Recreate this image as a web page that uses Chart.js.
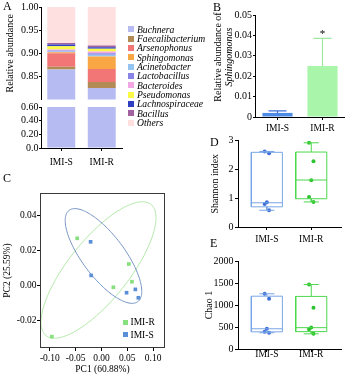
<!DOCTYPE html>
<html>
<head>
<meta charset="utf-8">
<script src="https://cdn.jsdelivr.net/npm/chart.js@4.4.1/dist/chart.umd.min.js"></script>
<style>
html,body{margin:0;padding:0;background:#fff;}
body{position:relative;width:345px;height:383px;overflow:hidden;font-family:"Liberation Serif","Times New Roman",serif;color:#000;}
canvas{position:absolute;}
.pl{position:absolute;font-size:12px;line-height:12px;}
.rt{position:absolute;white-space:nowrap;font-size:10px;line-height:10px;transform:translate(-50%,-50%) rotate(-90deg);}
.lg{position:absolute;display:flex;align-items:center;white-space:nowrap;}
.sw{display:inline-block;flex:none;}
</style>
</head>
<body>
<canvas id="cA1" width="125" height="106" style="left:0px;top:0px"></canvas>
<canvas id="cA2" width="125" height="69" style="left:0px;top:101px"></canvas>
<canvas id="cB" width="145" height="140" style="left:200px;top:0px"></canvas>
<canvas id="cC" width="175" height="200" style="left:0px;top:175px"></canvas>
<canvas id="cD" width="145" height="117" style="left:200px;top:133px"></canvas>
<canvas id="cE" width="145" height="115" style="left:200px;top:250px"></canvas>

<div class="pl" style="left:3px;top:0px">A</div>
<div class="pl" style="left:213px;top:1px">B</div>
<div class="pl" style="left:3px;top:172px">C</div>
<div class="pl" style="left:210px;top:136px">D</div>
<div class="pl" style="left:210px;top:237px">E</div>

<div class="rt" style="left:217.5px;top:57px">Relative abundance of</div>
<div class="rt" style="left:229px;top:57px;font-style:italic">Sphingomonas</div>

<div id="legA"></div>
<div id="legC"></div>

<script>
// ---------------- DATA ----------------
const groups = ['IMI-S', 'IMI-R'];

// Panel A: relative abundance (stacked, per taxon)
const taxa = ['Buchnera','Faecalibacterium','Arsenophonus','Sphingomonas','Acinetobacter','Lactobacillus','Bacteroides','Pseudomonas','Lachnospiraceae','Bacillus','Others'];
const taxaColors = ['#b6bcf2','#b38b55','#f37676','#f9a645','#93c4f2','#8984e6','#f2a7e4','#fafa46','#2f3fc0','#a1639f','#fde0df'];
const abundS = [0.865,0.006,0.029,0.002,0.002,0.002,0.002,0.007,0.004,0.003,0.078];
const abundR = [0.825,0.013,0.028,0.027,0.004,0.003,0.004,0.006,0.003,0.004,0.083];
const upperTickVals = [0.85,0.90,0.95,1.00];
const upperTickLabels = ['0.85','0.90','0.95','1.00'];
const lowerTickVals = [0,0.2,0.4,0.6];
const lowerTickLabels = ['0.0','0.20','0.40','0.60'];

// Panel B: Sphingomonas
const sphingoMean = [0.002, 0.025];
const sphingoSD = [0.001, 0.0135];
const sphingoSig = ['', '*'];
const sphingoTickVals = [0,0.01,0.02,0.03,0.04,0.05];
const sphingoTickLabels = ['0','0.01','0.02','0.03','0.04','0.05'];

// Panel C: PCoA
const pc1R = [-0.047, 0.053, 0.059, 0.023, -0.096];
const pc2R = [0.0267, 0.012, 0.0019, -0.0013, -0.0295];
const pc1S = [-0.021, -0.020, 0.0486, 0.0656, 0.0714];
const pc2S = [0.0247, 0.0055, -0.0044, -0.0025, -0.0073];
const pcXTickVals = [-0.10,-0.05,0,0.05,0.10];
const pcXTickLabels = ['-0.10','-0.05','0.00','0.05','0.10'];
const pcYTickVals = [-0.02,0,0.02,0.04];
const pcYTickLabels = ['-0.02','0.00','0.02','0.04'];
// ellipses: centre, end of one semi-axis, end of the other (data units)
const ellCenterR = [-0.0058, 0.0086];
const ellMajorR  = [0.0957, 0.0461];
const ellMinorR  = [0.0399, -0.0021];
const ellCenterS = [0.0039, 0.0166];
const ellMajorS  = [0.0704, -0.0095];
const ellMinorS  = [-0.0288, 0.0094];

// Panel D: Shannon index
const shannonS = [2.62, 2.56, 0.86, 0.80, 0.58];
const shannonR = [2.92, 2.28, 1.62, 1.04, 0.87];
const shannonMin = [0.58, 0.87];
const shannonQ1  = [0.70, 0.98];
const shannonMed = [0.84, 1.63];
const shannonQ3  = [2.59, 2.60];
const shannonMax = [2.62, 2.92];
const shannonTickVals = [0,1,2,3];
const shannonTickLabels = ['0','1','2','3'];

// Panel E: Chao 1
const chaoS = [1255, 1140, 460, 390, 370];
const chaoR = [1465, 935, 490, 450, 345];
const chaoMin = [370, 345];
const chaoQ1  = [390, 395];
const chaoMed = [460, 485];
const chaoQ3  = [1200, 1195];
const chaoMax = [1255, 1465];
const chaoTickVals = [0,500,1000,1500,2000];
const chaoTickLabels = ['0','500','1000','1500','2000'];

// ---------------- STYLE ----------------
const FONT = '"Liberation Serif","Times New Roman",serif';
Chart.defaults.font.family = FONT;
Chart.defaults.font.size = 10;
Chart.defaults.color = '#000';
Chart.defaults.animation = false;
Chart.defaults.plugins.legend.display = false;
Chart.defaults.plugins.tooltip.enabled = false;

const barColorsB = ['#4d8ae6', '#a9f5a9'];
const errColorsB = ['#3a6fd8', '#9fe89f'];
const pcColorR = '#86e07e', pcColorS = '#5a8fd8';
const ellColorR = '#b2e8a8', ellColorS = '#7393c4';
const boxLineColors = ['#79a6e6', '#4cd84c'];
const dotColors = ['#3c6ed6', '#2ec22e'];
const boxHalf = 0.35, capHalf = 0.17;
const jitter = [-0.05, 0.05, 0.0, -0.05, 0.05];

function fixedTicks(vals){ return s => { s.ticks = vals.map(v => ({value: v})); }; }
function axisGrid(len){ return {display:true, drawOnChartArea:false, drawTicks:true, tickLength:len, color:'#000', offset:false}; }

// ---------------- PANEL A ----------------
function abundanceDatasets(){
  return taxa.map((t, i) => ({label:t, data:[abundS[i], abundR[i]], backgroundColor:taxaColors[i],
    borderWidth:0, clip:0, barPercentage:0.69, categoryPercentage:1}));
}
new Chart(document.getElementById('cA1'), {
  type:'bar',
  data:{labels:groups, datasets:abundanceDatasets()},
  options:{responsive:false, layout:{padding:{top:7,right:3,bottom:2,left:0}},
    scales:{
      x:{stacked:true, display:false},
      y:{stacked:true, min:0.8, max:1.0, afterFit:s=>{s.width=41;}, afterBuildTicks:fixedTicks(upperTickVals),
        ticks:{callback:(v,i)=>upperTickLabels[i], padding:0.5, autoSkip:false},
        grid:axisGrid(2), border:{display:true,color:'#000',width:1},
        title:{display:true,text:'Relative abundance',padding:{top:4,bottom:0},font:{size:10}}}
    }}
});
new Chart(document.getElementById('cA2'), {
  type:'bar',
  data:{labels:groups, datasets:abundanceDatasets()},
  options:{responsive:false, layout:{padding:{top:6,right:3,bottom:0,left:0}},
    scales:{
      x:{stacked:true, afterFit:s=>{s.height=22;}, ticks:{padding:6, font:{size:9.5}, autoSkip:false},
        grid:axisGrid(3), border:{display:true,color:'#000',width:1}},
      y:{stacked:true, min:0, max:0.6, afterFit:s=>{s.width=41;}, afterBuildTicks:fixedTicks(lowerTickVals),
        ticks:{callback:(v,i)=>lowerTickLabels[i], padding:0.5, autoSkip:false, font:{size:10, lineHeight:1}},
        grid:axisGrid(2), border:{display:true,color:'#000',width:1}}
    }}
});
// legend A
(function(){
  const box = document.getElementById('legA');
  taxa.forEach((t, i) => {
    const row = document.createElement('div');
    row.className = 'lg';
    row.style.cssText = `left:128px;top:${24.8 + i*9.33}px;height:9.33px;font-size:9.6px;line-height:9.33px;font-style:italic;`;
    row.innerHTML = `<span class="sw" style="width:6px;height:6px;background:${taxaColors[i]};margin-right:3px"></span><span>${t}</span>`;
    box.appendChild(row);
  });
})();

// ---------------- PANEL B ----------------
const errPlugin = {
  id:'errB',
  afterDatasetsDraw(chart){
    const {ctx, scales:{x, y}} = chart;
    ctx.save();
    sphingoMean.forEach((m, i) => {
      const px = x.getPixelForValue(i);
      const yb = y.getPixelForValue(m), yt = y.getPixelForValue(m + sphingoSD[i]);
      ctx.strokeStyle = errColorsB[i]; ctx.lineWidth = 1.2;
      ctx.beginPath(); ctx.moveTo(px, yb); ctx.lineTo(px, yt);
      ctx.moveTo(px - 9, yt); ctx.lineTo(px + 9, yt); ctx.stroke();
      if (sphingoSig[i]) {
        ctx.fillStyle = '#000'; ctx.font = '11px ' + FONT;
        ctx.textAlign = 'center'; ctx.textBaseline = 'alphabetic';
        ctx.fillText(sphingoSig[i], px, yt - 1);
      }
    });
    ctx.restore();
  }
};
new Chart(document.getElementById('cB'), {
  type:'bar',
  data:{labels:groups, datasets:[{data:sphingoMean, backgroundColor:barColorsB, borderWidth:0, barPercentage:0.67, categoryPercentage:1}]},
  options:{responsive:false, layout:{padding:{top:15,right:0,bottom:0,left:0}},
    scales:{
      x:{afterFit:s=>{s.height=23;}, ticks:{padding:3, font:{size:9.5}, autoSkip:false}, grid:axisGrid(3), border:{display:true,color:'#000',width:1}},
      y:{min:0, max:0.05, afterFit:s=>{s.width=55;}, afterBuildTicks:fixedTicks(sphingoTickVals),
        ticks:{callback:(v,i)=>sphingoTickLabels[i], padding:1, autoSkip:false}, grid:axisGrid(2), border:{display:true,color:'#000',width:1}}
    }},
  plugins:[errPlugin]
});

// ---------------- PANEL C ----------------
const ellipsePlugin = {
  id:'ellipses',
  beforeDatasetsDraw(chart){
    const {ctx, scales:{x, y}, chartArea:a} = chart;
    const list = [[ellCenterR, ellMajorR, ellMinorR, ellColorR], [ellCenterS, ellMajorS, ellMinorS, ellColorS]];
    ctx.save();
    ctx.beginPath(); ctx.rect(a.left, a.top, a.width, a.height); ctx.clip();
    list.forEach(([c, m, n, col]) => {
      const cx = x.getPixelForValue(c[0]), cy = y.getPixelForValue(c[1]);
      const ax = x.getPixelForValue(m[0]) - cx, ay = y.getPixelForValue(m[1]) - cy;
      const bx = x.getPixelForValue(n[0]) - cx, by = y.getPixelForValue(n[1]) - cy;
      ctx.beginPath();
      for (let k = 0; k <= 180; k++) {
        const t = k / 180 * Math.PI * 2;
        const px = cx + ax * Math.cos(t) + bx * Math.sin(t), py = cy + ay * Math.cos(t) + by * Math.sin(t);
        if (k === 0) ctx.moveTo(px, py); else ctx.lineTo(px, py);
      }
      ctx.strokeStyle = col; ctx.lineWidth = 1; ctx.stroke();
    });
    ctx.restore();
  },
  afterDraw(chart){
    const {ctx, chartArea:a} = chart;
    ctx.save(); ctx.strokeStyle = '#3a3a3a'; ctx.lineWidth = 1;
    ctx.strokeRect(Math.round(a.left) + 0.5, Math.round(a.top) + 0.5, Math.round(a.width) - 1, Math.round(a.height) - 1);
    ctx.restore();
  }
};
new Chart(document.getElementById('cC'), {
  type:'scatter',
  data:{datasets:[
    {label:'IMI-R', data:pc1R.map((v,i)=>({x:v, y:pc2R[i]})), pointStyle:'rect', pointRadius:2.6, backgroundColor:pcColorR, borderWidth:0},
    {label:'IMI-S', data:pc1S.map((v,i)=>({x:v, y:pc2S[i]})), pointStyle:'rect', pointRadius:2.6, backgroundColor:pcColorS, borderWidth:0}
  ]},
  options:{responsive:false, layout:{padding:{top:18,right:10,bottom:0,left:0}},
    scales:{
      x:{type:'linear', min:-0.119, max:0.123, afterFit:s=>{s.height=27;}, afterBuildTicks:fixedTicks(pcXTickVals),
        ticks:{callback:(v,i)=>pcXTickLabels[i], padding:2, font:{size:9.5}, autoSkip:false, maxRotation:0}, grid:axisGrid(3), border:{display:false},
        title:{display:true, text:'PC1 (60.88%)', padding:{top:0,bottom:0.3}, font:{size:9.5}}},
      y:{type:'linear', min:-0.036, max:0.0526, afterFit:s=>{s.width=40;}, afterBuildTicks:fixedTicks(pcYTickVals),
        ticks:{callback:(v,i)=>pcYTickLabels[i], padding:0.5, font:{size:9.5}, autoSkip:false}, grid:axisGrid(3), border:{display:false},
        title:{display:true, text:'PC2 (25.59%)', padding:{top:1.3,bottom:0}, font:{size:9.5}}}
    }},
  plugins:[ellipsePlugin]
});
// legend C
(function(){
  const box = document.getElementById('legC');
  [['IMI-R', pcColorR, 322.3], ['IMI-S', pcColorS, 334.8]].forEach(([t, col, yc]) => {
    const row = document.createElement('div');
    row.className = 'lg';
    row.style.cssText = `left:122.5px;top:${yc - 5}px;height:10px;font-size:9.5px;line-height:10px;`;
    row.innerHTML = `<span class="sw" style="width:5px;height:5px;background:${col};margin-right:3px"></span><span>${t}</span>`;
    box.appendChild(row);
  });
})();

// ---------------- PANELS D, E ----------------
function boxChart(id, pts, mins, q1, med, q3, maxs, yMax, tVals, tLabels, title, titlePad, padTop, xH, xPad){
  const datasets = [];
  groups.forEach((g, gi) => {
    const c = gi + 1, col = boxLineColors[gi];
    const seg = p => datasets.push({type:'scatter', data:p, showLine:true, borderColor:col, borderWidth:1, pointRadius:0, fill:false});
    seg([{x:c-boxHalf,y:q1[gi]},{x:c+boxHalf,y:q1[gi]},{x:c+boxHalf,y:q3[gi]},{x:c-boxHalf,y:q3[gi]},{x:c-boxHalf,y:q1[gi]}]);
    seg([{x:c-boxHalf,y:med[gi]},{x:c+boxHalf,y:med[gi]}]);
    seg([{x:c,y:q3[gi]},{x:c,y:maxs[gi]}]);
    seg([{x:c-capHalf,y:maxs[gi]},{x:c+capHalf,y:maxs[gi]}]);
    seg([{x:c,y:q1[gi]},{x:c,y:mins[gi]}]);
    seg([{x:c-capHalf,y:mins[gi]},{x:c+capHalf,y:mins[gi]}]);
    datasets.push({type:'scatter', data:pts[gi].map((v,i)=>({x:c+jitter[i], y:v})), pointRadius:2, backgroundColor:dotColors[gi], borderWidth:0});
  });
  new Chart(document.getElementById(id), {
    type:'scatter',
    data:{datasets},
    options:{responsive:false, layout:{padding:{top:padTop,right:0,bottom:0,left:0}},
      scales:{
        x:{type:'linear', min:0.35, max:2.67, afterFit:s=>{s.height=xH;}, afterBuildTicks:fixedTicks([1,2]),
          ticks:{callback:v=>groups[Math.round(v)-1], padding:xPad, font:{size:9.5}, autoSkip:false, maxRotation:0}, grid:axisGrid(3), border:{display:true,color:'#000',width:1}},
        y:{type:'linear', min:0, max:yMax, afterFit:s=>{s.width=38;}, afterBuildTicks:fixedTicks(tVals),
          ticks:{callback:(v,i)=>tLabels[i], padding:1.5, autoSkip:false}, grid:axisGrid(3), border:{display:true,color:'#000',width:1},
          title:{display:true, text:title, padding:{top:titlePad,bottom:0}, font:{size:10}}}
      }}
  });
}
boxChart('cD', [shannonS, shannonR], shannonMin, shannonQ1, shannonMed, shannonQ3, shannonMax, 3, shannonTickVals, shannonTickLabels, 'Shannon index', 9, 7, 23, 4);
boxChart('cE', [chaoS, chaoR], chaoMin, chaoQ1, chaoMed, chaoQ3, chaoMax, 2000, chaoTickVals, chaoTickLabels, 'Chao 1', 3, 11, 16, -3.5);
</script>
</body>
</html>
